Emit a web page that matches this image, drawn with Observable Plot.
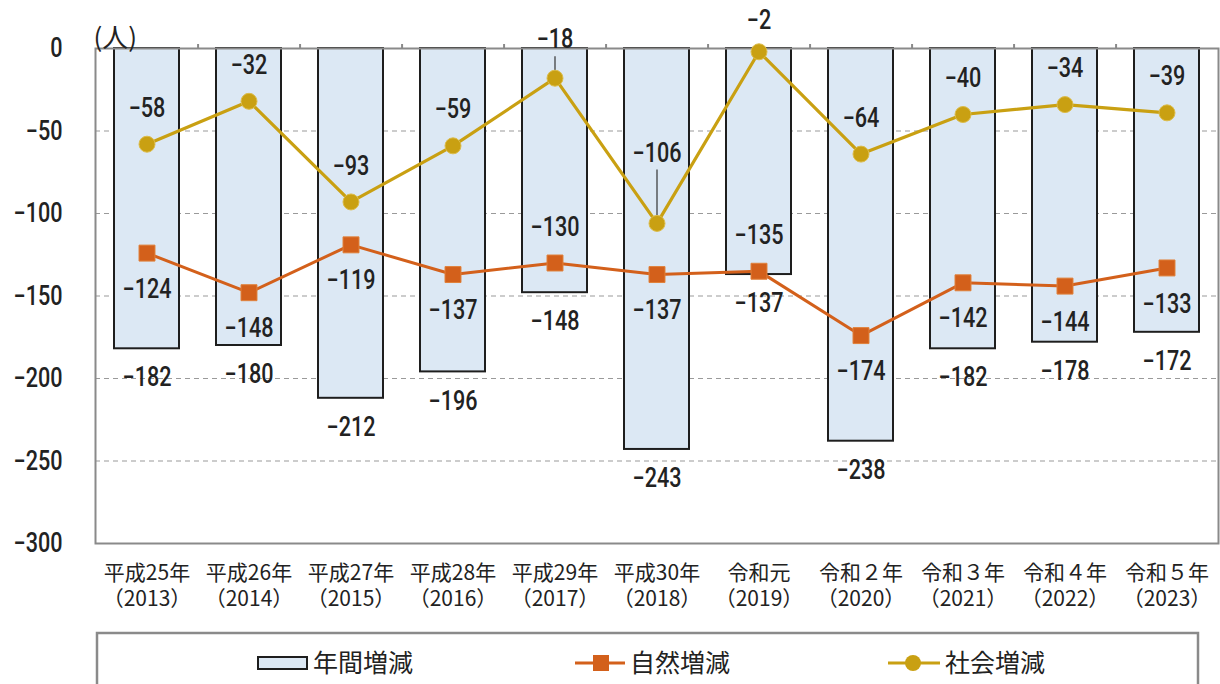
<!DOCTYPE html>
<html>
<head>
<meta charset="utf-8">
<script src="https://cdn.jsdelivr.net/npm/d3@7"></script>
<script src="https://cdn.jsdelivr.net/npm/@observablehq/plot@0.6"></script>
<style>
  body { margin: 0; background: #fff; }
  #chart svg { display: block; }
  #legend svg { display: block; }
</style>
</head>
<body>
<div id="chart"></div>
<div id="legend"></div>
<script>
// ---- data ----
const years = [2013, 2014, 2015, 2016, 2017, 2018, 2019, 2020, 2021, 2022, 2023];
const eraLabels = ["平成25年", "平成26年", "平成27年", "平成28年", "平成29年", "平成30年", "令和元", "令和２年", "令和３年", "令和４年", "令和５年"];
const annual = [-182, -180, -212, -196, -148, -243, -137, -238, -182, -178, -172];   // 年間増減
const natural = [-124, -148, -119, -137, -130, -137, -135, -174, -142, -144, -133];  // 自然増減
const social = [-58, -32, -93, -59, -18, -106, -2, -64, -40, -34, -39];              // 社会増減
const yTicks = [0, -50, -100, -150, -200, -250, -300];
const seriesNames = ["年間増減", "自然増減", "社会増減"];
const unitLabel = "(人)";

// ---- layout / style ----
const W = 1220, H = 630;
const mL = 95, mR = 2, mT = 48, mB = 87;
const pInner = 0.365, pOuter = 0.18;
const n = years.length;
const step = (W - mL - mR) / (n - pInner + 2 * pOuter);
const k = (H - mT - mB) / 300; // px per unit
const numFont = "Roboto, 'Noto Sans', sans-serif";
const cjkFont = "'Noto Sans CJK JP', 'Noto Sans', sans-serif";
const barFill = "#dce8f4", barStroke = "#1e1e1e";
const orange = "#d3601b", gold = "#c9a012";
const fmt = d3.format("d");
const numSize = 27, condense = 0.8;

const data = years.map((y, i) => ({
  year: y, label: eraLabels[i] + "\n（" + y + "）",
  annual: annual[i], natural: natural[i], social: social[i]
}));
const labelOf = new Map(data.map(d => [d.year, d.label]));

// label placement helpers (pixel lifts converted to data units)
const socialLift = new Map([[2018, 70], [2017, 39], [2019, 31]]);
const leaderLen = new Map([[2018, 52], [2017, 20]]);
const naturalAbove = d => (d.natural - d.annual) < 25;

const numText = { fontSize: numSize, fontWeight: 500, fill: "#222", className: "num" };

const chart = Plot.plot({
  width: W, height: H,
  marginLeft: mL, marginRight: mR, marginTop: mT, marginBottom: mB,
  style: { fontFamily: numFont, color: "#222", background: "#fff", overflow: "visible" },
  x: { type: "band", domain: years, paddingInner: pInner, paddingOuter: pOuter, align: 0.5, label: null },
  y: { domain: [-300, 0], label: null },
  marks: [
    Plot.gridY(yTicks.filter(t => t < 0 && t > -300), { stroke: "#9a9a9a", strokeOpacity: 1, strokeDasharray: "5,4", strokeWidth: 1.2 }),
    Plot.barY(data, { x: "year", y: "annual", fill: barFill, stroke: barStroke, strokeWidth: 2 }),
    Plot.frame({ stroke: "#8a8a8a", strokeWidth: 2 }),
    Plot.ruleX(data.slice(0, -1), { x: "year", dx: step / 2, y1: 0, y2: 4 / k, stroke: "#8a8a8a", strokeWidth: 2, clip: false }),
    Plot.axisY({ ticks: yTicks, tickSize: 0, tickPadding: 33, tickFormat: fmt, ...numText }),
    Plot.axisX({ tickSize: 0, tickPadding: 19, fontSize: 21, lineHeight: 1.2, tickFormat: y => labelOf.get(y), fontFamily: cjkFont, fill: "#222" }),
    Plot.text([unitLabel], { frameAnchor: "top-left", textAnchor: "start", dy: -20, dx: -2, fontSize: 26, fontFamily: cjkFont, fill: "#222" }),
    // natural line
    Plot.line(data, { x: "year", y: "natural", stroke: orange, strokeWidth: 3 }),
    Plot.dot(data, { x: "year", y: "natural", symbol: "square", r: 9, fill: orange, stroke: "#e0803a", strokeWidth: 1 }),
    // social line
    Plot.line(data, { x: "year", y: "social", stroke: gold, strokeWidth: 3.2 }),
    Plot.link(data.filter(d => leaderLen.has(d.year)), {
      x1: "year", x2: "year",
      y1: d => d.social + 6 / k, y2: d => d.social + (leaderLen.get(d.year) + 2) / k,
      stroke: "#333", strokeWidth: 1.2
    }),
    Plot.dot(data, { x: "year", y: "social", r: 8, fill: gold, stroke: "#dcbc4a", strokeWidth: 1 }),
    // value labels
    Plot.text(data, { x: "year", y: d => d.annual - 29 / k, text: d => fmt(d.annual), ...numText }),
    Plot.text(data, { x: "year", y: d => d.natural + (naturalAbove(d) ? 36 : -36) / k, text: d => fmt(d.natural), ...numText }),
    Plot.text(data, { x: "year", y: d => d.social + (socialLift.get(d.year) ?? 36) / k, text: d => fmt(d.social), ...numText })
  ]
});
document.getElementById("chart").appendChild(chart);

// condense the numeric labels horizontally (the reference uses a narrow face)
d3.select(chart).selectAll("g.num text").each(function () {
  const t = this.getAttribute("transform");
  if (t) {
    this.setAttribute("transform", t + ` scale(${condense},1)`);
  } else {
    const x = +this.getAttribute("x") || 0, y = +this.getAttribute("y") || 0;
    this.removeAttribute("x"); this.removeAttribute("y");
    this.setAttribute("transform", `translate(${x},${y}) scale(${condense},1)`);
  }
});

// ---- legend (below the svg) ----
const LH = 54;
const lg = d3.select("#legend").append("svg").attr("width", W).attr("height", LH);
lg.append("rect").attr("x", 97).attr("y", 3).attr("width", 1101).attr("height", 80)
  .attr("fill", "none").attr("stroke", "#8a8a8a").attr("stroke-width", 2.5);
const cy = 33;
lg.append("rect").attr("x", 258).attr("y", cy - 6).attr("width", 49).attr("height", 12)
  .attr("fill", barFill).attr("stroke", barStroke).attr("stroke-width", 2);
lg.append("line").attr("x1", 575).attr("x2", 625).attr("y1", cy).attr("y2", cy).attr("stroke", orange).attr("stroke-width", 3);
lg.append("rect").attr("x", 593).attr("y", cy - 8).attr("width", 16).attr("height", 16).attr("fill", orange);
lg.append("line").attr("x1", 888).attr("x2", 940).attr("y1", cy).attr("y2", cy).attr("stroke", gold).attr("stroke-width", 3.2);
lg.append("circle").attr("cx", 913).attr("cy", cy).attr("r", 8).attr("fill", gold);
const lx = [313, 630, 945];
seriesNames.forEach((s, i) => {
  lg.append("text").attr("x", lx[i]).attr("y", cy).attr("dy", "0.35em")
    .attr("font-family", cjkFont).attr("font-size", 25).attr("fill", "#222").text(s);
});
</script>
</body>
</html>
